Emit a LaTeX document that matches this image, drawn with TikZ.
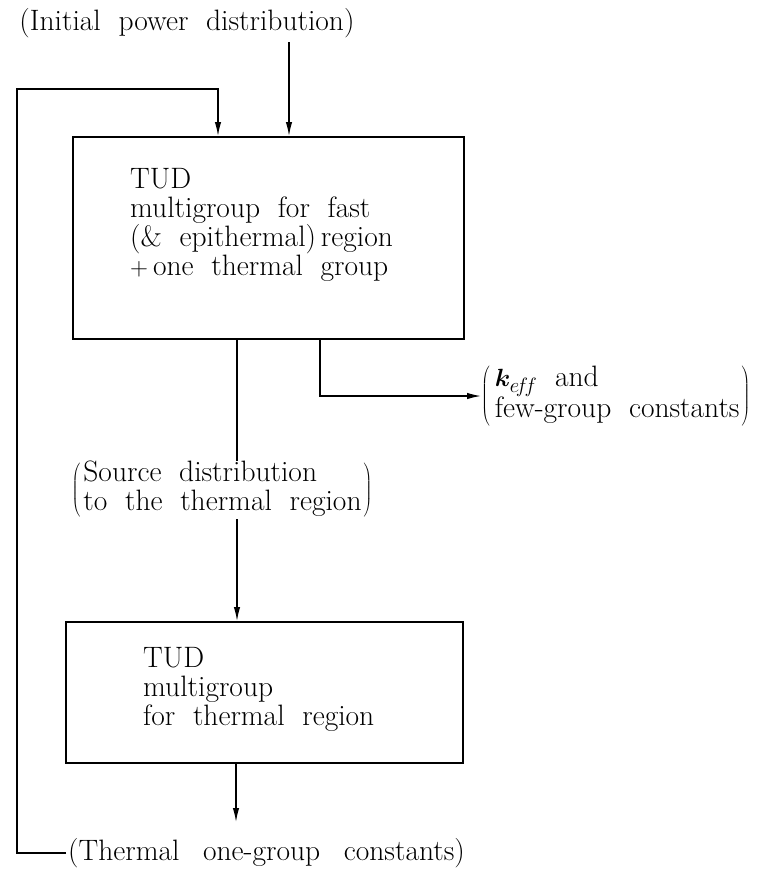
\documentclass[tikz,border=0pt]{standalone}
\usetikzlibrary{arrows.meta}
\usepackage{bm}
\newcommand\diagfont{\fontsize{29.5}{29}\selectfont\spaceskip=0.6em plus 0.1em\relax}
\begin{document}
\begin{tikzpicture}[x=1pt,y=-1pt,
  txt/.style={font=\diagfont, inner sep=0pt, align=left},
  blk/.style={draw, line width=1.9pt, inner sep=0pt, anchor=north west},
  conn/.style={line width=1.4pt},
  arr/.style={conn, -{Latex[length=14pt,width=6.5pt]}}]
\useasboundingbox (0,0) rectangle (772,871);

% the two calculation blocks
\node[blk, minimum width=391pt, minimum height=202pt] (fast) at (72,136) {};
\node[blk, minimum width=397pt, minimum height=141pt] (slow) at (65,621) {};
\node[txt, anchor=north west] (fasttxt) at (130,168)
  {TUD\\multigroup for fast\\(\& epithermal)\,region\\$+$\,one thermal group};
\node[txt, anchor=north west] (slowtxt) at (143,647)
  {TUD\\multigroup\\for thermal region};

% labels
\node[txt] (init) at (187,23) {(Initial power distribution)};
\node[txt] (src) at (222,490)
  {$\left(\hspace{3pt}\begin{tabular}{@{}l@{}}Source distribution\\to the thermal region\end{tabular}\hspace{2pt}\right)$};
\node[txt, anchor=west] (keff) at (481,396)
  {$\left(\hspace{5pt}\begin{tabular}{@{}l@{}}$\bm{k}_{e\!f\!f}$ and\\few-group constants\end{tabular}\hspace{2pt}\right)$};
\node[txt, anchor=west, inner xsep=2pt] (therm) at (66,853)
  {\spaceskip=0.8em plus 0.1em\relax(Thermal one-group constants)};

% connection points on the block outlines
\coordinate (initfoot) at (289,42);
\coordinate (fbin) at (218,136);
\coordinate (loopcorner) at (17,89);
\coordinate (kout) at (320,338);
\coordinate (midline) at (237,338);
\coordinate (slowout) at (236,822);

% connectors
\draw[arr] (initfoot) -- (initfoot |- fast.north);
\draw[arr] (therm.west) -| (loopcorner) -| (fbin);
\draw[conn] (midline) -- (midline |- src.north);
\draw[arr] (midline |- src.south) -- (midline |- slow.north);
\draw[arr] (kout) |- (keff.west);
\draw[arr] (slowout |- slow.south) -- (slowout);
\end{tikzpicture}
\end{document}
